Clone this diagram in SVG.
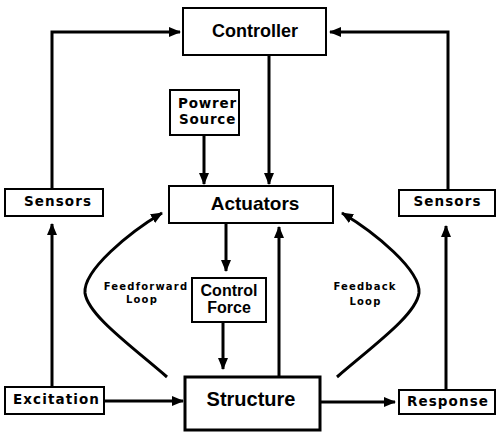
<svg xmlns="http://www.w3.org/2000/svg" width="497" height="433" viewBox="0 0 497 433">
<style>
.box{fill:#fff;stroke:#000;stroke-width:2}
.t{font-family:"Liberation Sans",Arial,sans-serif;font-weight:bold;fill:#000;text-anchor:middle}
.w{font-family:"DejaVu Sans",Verdana,sans-serif;font-weight:bold;fill:#000;text-anchor:middle}
.m{font-size:13.5px;letter-spacing:1.1px}
.c{fill:none;stroke:#000;stroke-width:3}
.s{font-size:10px;letter-spacing:1.2px}
</style>
<defs>
<marker id="a" markerUnits="userSpaceOnUse" markerWidth="12" markerHeight="10" refX="11" refY="5" orient="auto">
<path d="M0,0 L12,5 L0,10 Z" fill="#000"/>
</marker>
</defs>
<rect width="497" height="433" fill="#fff"/>
<g id="connectors">
<path class="c" d="M52,188 V32 H180" marker-end="url(#a)"/>
<path class="c" d="M448,190 V32 H330" marker-end="url(#a)"/>
<path class="c" d="M269,55 V184" marker-end="url(#a)"/>
<path class="c" d="M204,135 V184" marker-end="url(#a)"/>
<path class="c" d="M226,223 V271" marker-end="url(#a)"/>
<path class="c" d="M223,322 V369" marker-end="url(#a)"/>
<path class="c" d="M279,377 V227" marker-end="url(#a)"/>
<path class="c" d="M104,401 H183" marker-end="url(#a)"/>
<path class="c" d="M52,387 V224" marker-end="url(#a)"/>
<path class="c" d="M320,402 H395" marker-end="url(#a)"/>
<path class="c" d="M446,390 V226" marker-end="url(#a)"/>
<path class="c" d="M167,377 C130,345 88,315 85,293 C83,270 130,232 162,213" marker-end="url(#a)"/>
<path class="c" d="M337,377 C374,345 416,315 419,293 C421,270 374,232 342,213" marker-end="url(#a)"/>
</g>
<g id="controller"><rect class="box" x="183" y="8" width="143" height="47"/><text class="t" x="255" y="37" font-size="18">Controller</text></g>
<g id="power-source"><rect class="box" x="170" y="90" width="69" height="45"/><text class="w" x="207.5" y="108" font-size="13.5" letter-spacing="0.8">Powrer</text><text class="w" x="207.5" y="124" font-size="13.5" letter-spacing="0.8">Source</text></g>
<g id="actuators"><rect class="box" x="169" y="186" width="164" height="37"/><text class="t" x="255" y="209.5" font-size="19">Actuators</text></g>
<g id="sensors-left"><rect class="box" x="5" y="189" width="98" height="27"/><text class="w m" x="58" y="206">Sensors</text></g>
<g id="sensors-right"><rect class="box" x="399" y="190" width="96" height="26"/><text class="w m" x="447.5" y="206">Sensors</text></g>
<g id="control-force"><rect class="box" x="192" y="278" width="74" height="44"/><text class="t" x="229" y="296" font-size="16">Control</text><text class="t" x="229" y="313" font-size="16">Force</text></g>
<g id="structure"><rect class="box" x="185" y="377" width="135" height="53" style="stroke-width:3"/><text class="t" x="251" y="406" font-size="20">Structure</text></g>
<g id="excitation"><rect class="box" x="5" y="387" width="99" height="27"/><text class="w m" x="56.5" y="404">Excitation</text></g>
<g id="response"><rect class="box" x="399" y="390" width="96" height="24"/><text class="w m" x="448" y="406">Response</text></g>
<g id="labels">
<text class="w s" x="146" y="289.5">Feedforward</text><text class="w s" x="142" y="303">Loop</text>
<text class="w s" x="365" y="290">Feedback</text><text class="w s" x="365.5" y="305">Loop</text>
</g>
</svg>
